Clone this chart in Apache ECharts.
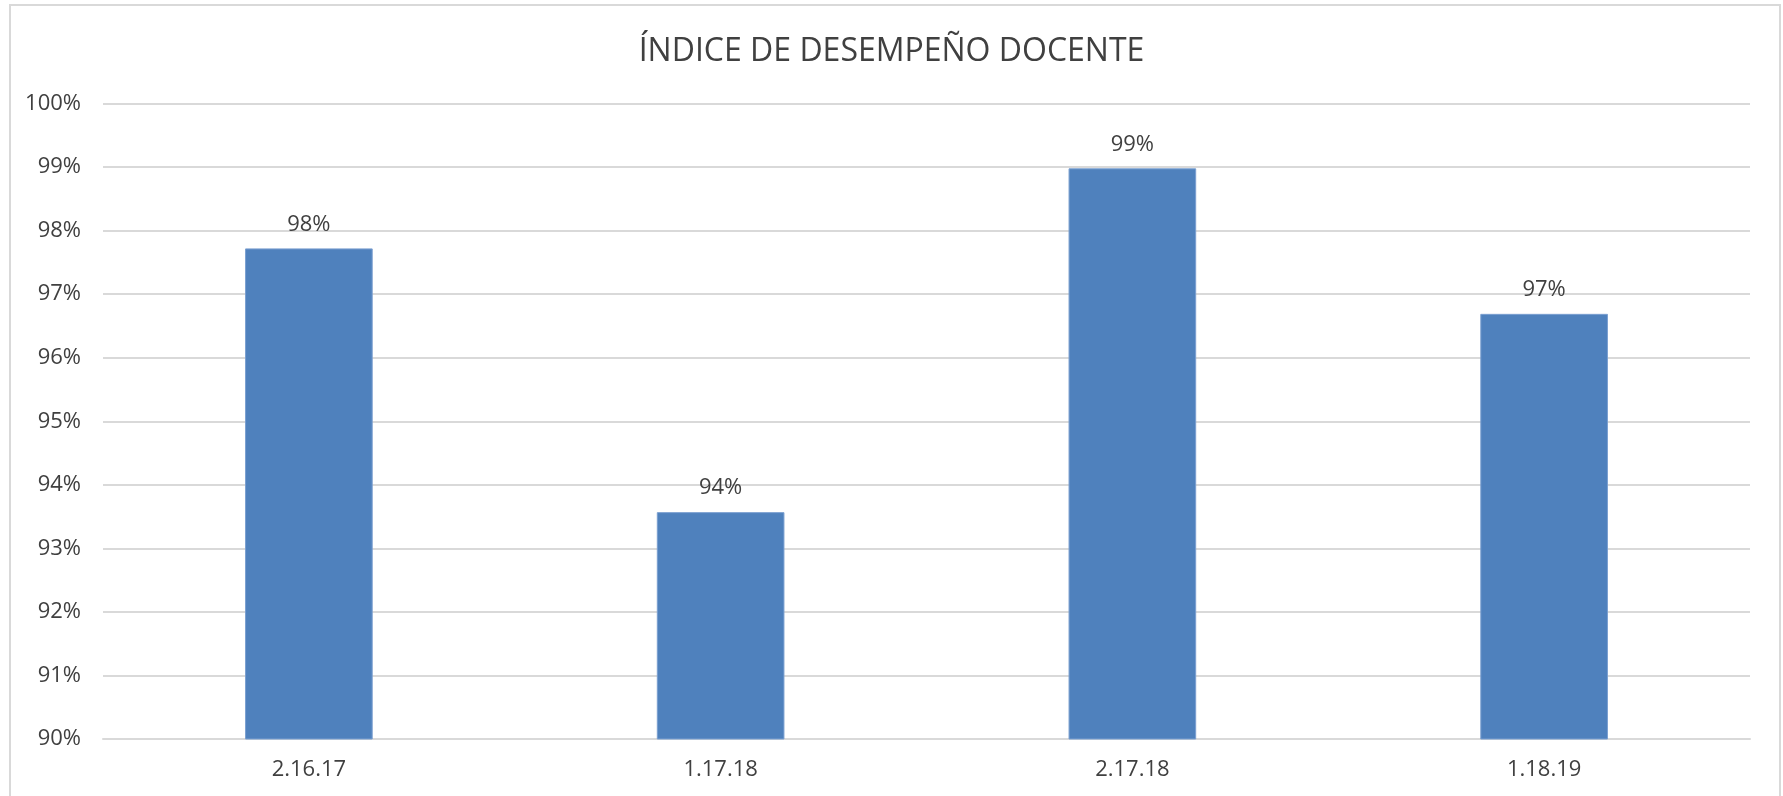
<!DOCTYPE html>
<html>
<head>
<meta charset="utf-8">
<script src="https://cdn.jsdelivr.net/npm/echarts@6/dist/echarts.min.js"></script>
<style>
  html, body { margin: 0; padding: 0; background: #fff; }
  #main { width: 1783px; height: 796px; }
</style>
</head>
<body>
<div id="main"></div>
<script>
// datos
const categories = ['2.16.17', '1.17.18', '2.17.18', '1.18.19'];
const indice = [97.72, 93.57, 98.98, 96.69];
const yTicks = { min: 90, max: 100, interval: 1 };

let myChart = echarts.init(document.getElementById('main'));
myChart.setOption({
    backgroundColor: '#fff',
    animation: false,
    title: {
        text: 'ÍNDICE DE DESEMPEÑO DOCENTE',
        left: 'center',
        top: 31,
        textStyle: {
            fontFamily: 'Open Sans',
            fontSize: 32,
            fontWeight: 'normal',
            color: '#404040'
        }
    },
    // borde del área del gráfico
    graphic: [{
        type: 'rect',
        shape: { x: 10, y: 5, width: 1770, height: 800 },
        style: { fill: 'none', stroke: '#d9d9d9', lineWidth: 2 },
        silent: true
    }],
    grid: { left: 103, right: 33, top: 103.5, bottom: 57 },
    xAxis: {
        type: 'category',
        data: categories,
        axisLine: { show: true, lineStyle: { color: '#d9d9d9', width: 2 } },
        axisTick: { show: false },
        axisLabel: {
            margin: 20,
            fontFamily: 'Open Sans',
            fontSize: 22,
            color: '#404040'
        }
    },
    yAxis: {
        type: 'value',
        min: yTicks.min,
        max: yTicks.max,
        interval: yTicks.interval,
        axisLine: { show: false },
        axisTick: { show: false },
        splitLine: { lineStyle: { color: '#d9d9d9', width: 2 } },
        axisLabel: {
            margin: 22,
            fontFamily: 'Open Sans',
            fontSize: 22,
            color: '#404040',
            formatter: v => v + '%'
        }
    },
    series: [{
        type: 'bar',
        data: indice,
        barWidth: '31%',
        itemStyle: { color: '#4f81bd', borderColor: '#7a9fd0', borderWidth: 1 },
        label: {
            show: true,
            position: 'top',
            distance: 13,
            fontFamily: 'Open Sans',
            fontSize: 22,
            color: '#404040',
            formatter: p => Math.round(p.value) + '%'
        }
    }]
});
</script>
</body>
</html>
